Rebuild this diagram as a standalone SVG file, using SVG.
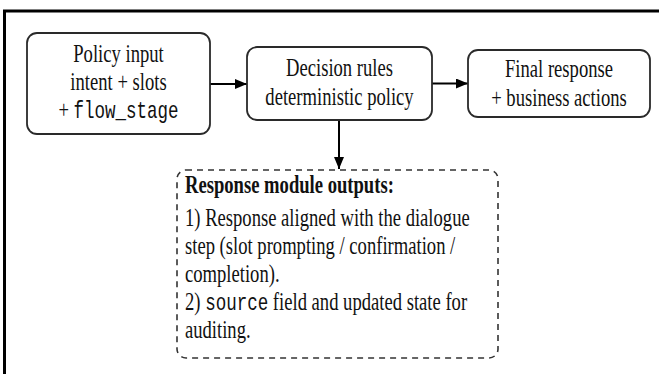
<svg xmlns="http://www.w3.org/2000/svg" width="659" height="374" viewBox="0 0 659 374">
  <defs>
    <marker id="arr" viewBox="0 0 12 10" refX="12" refY="5" markerWidth="12" markerHeight="10" markerUnits="userSpaceOnUse" orient="auto">
      <path d="M0,0 L12,5 L0,10 Z" fill="#000"/>
    </marker>
  </defs>
  <style>
    .box { fill: #fff; stroke: #2a2a2a; stroke-width: 1.8; }
    .dash { fill: #fff; stroke: #333; stroke-width: 1.6; stroke-dasharray: 6 5; }
    .t { font-family: "Liberation Serif", "Times New Roman", serif; font-size: 25.5px; fill: #111; }
    .m { font-family: "Liberation Mono", "Courier New", monospace; font-size: 24px; }
    .b { font-weight: bold; }
    .edge { stroke: #000; stroke-width: 2; fill: none; }
  </style>
  <rect x="0" y="0" width="659" height="374" fill="#fff"/>
  <rect x="4.5" y="11" width="720" height="420" fill="none" stroke="#000" stroke-width="3"/>

  <g id="connectors">
    <line class="edge" x1="210" y1="84" x2="247" y2="84" marker-end="url(#arr)"/>
    <line class="edge" x1="432" y1="83.5" x2="468" y2="83.5" marker-end="url(#arr)"/>
    <line class="edge" x1="339" y1="120" x2="339" y2="169" marker-end="url(#arr)"/>
  </g>

  <g id="policy-input">
    <rect class="box" x="27" y="33" width="183" height="101" rx="10"/>
    <g transform="translate(118.5,0) scale(0.73,1)">
      <text class="t" text-anchor="middle"><tspan x="0" y="62">Policy input</tspan><tspan x="0" y="90">intent + slots</tspan><tspan x="0" y="118">+ <tspan class="m">flow_stage</tspan></tspan></text>
    </g>
  </g>

  <g id="decision-rules">
    <rect class="box" x="247" y="47" width="185" height="73" rx="10"/>
    <g transform="translate(339.5,0) scale(0.73,1)">
      <text class="t" text-anchor="middle"><tspan x="0" y="76">Decision rules</tspan><tspan x="0" y="105">deterministic policy</tspan></text>
    </g>
  </g>

  <g id="final-response">
    <rect class="box" x="468" y="50" width="182" height="67" rx="10"/>
    <g transform="translate(559,0) scale(0.73,1)">
      <text class="t" text-anchor="middle"><tspan x="0" y="77">Final response</tspan><tspan x="0" y="106">+ business actions</tspan></text>
    </g>
  </g>

  <g id="response-module">
    <rect class="dash" x="177" y="170" width="321" height="188" rx="9"/>
    <g transform="translate(185,0) scale(0.73,1)">
      <text class="t"><tspan x="0" y="193" class="b">Response module outputs:</tspan><tspan x="0" y="226">1) Response aligned with the dialogue</tspan><tspan x="0" y="254">step (slot prompting / confirmation /</tspan><tspan x="0" y="282">completion).</tspan><tspan x="0" y="310">2) <tspan class="m">source</tspan> field and updated state for</tspan><tspan x="0" y="338">auditing.</tspan></text>
    </g>
  </g>
</svg>
